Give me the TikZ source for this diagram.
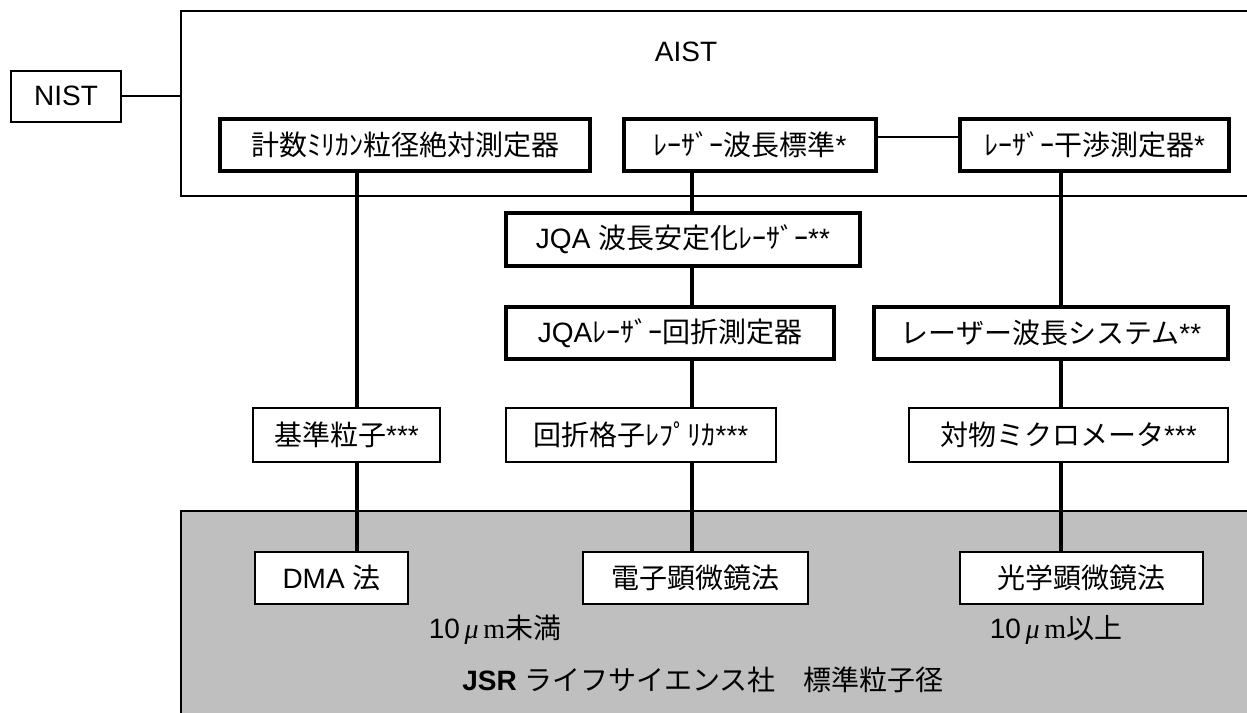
\documentclass[tikz,border=0pt]{standalone}
\usepackage{fontspec}
\newfontfamily\ar{Liberation Sans}
\newfontfamily\jp{Noto Sans CJK JP}
\newfontfamily\ls{Liberation Serif}
\tikzset{
  base/.style={draw, inner sep=0pt, font=\ar\fontsize{28}{32}\selectfont},
  thinbox/.style={base, line width=2pt, fill=white},
  thickbox/.style={base, line width=3.5pt, fill=white, minimum height=52pt},
  midbox/.style={base, line width=2.8pt, fill=white, minimum height=54pt},
  lowbox/.style={base, line width=2.5pt, fill=white, minimum height=52pt},
  conn/.style={line width=4pt},
  thinline/.style={line width=1.6pt},
  lbl/.style={font=\ar\fontsize{28}{32}\selectfont, inner sep=0pt},
}
\begin{document}
\begin{tikzpicture}[x=1pt,y=-1pt]
\useasboundingbox (0,0) rectangle (1247,712);
% frames
\node[draw, line width=2pt, minimum width=1090pt, minimum height=185pt, anchor=north west, inner sep=0pt] (aist) at (180,10) {};
\node[draw, line width=2pt, fill=gray!50, minimum width=1090pt, minimum height=220pt, anchor=north west, inner sep=0pt] (jsrbox) at (180,510) {};
\node[lbl] (aistlbl) at (686,52) {AIST};
% coordinates
\coordinate (xA) at (357,0);
\coordinate (xB) at (692,0);
\coordinate (xC) at (1061,0);
\coordinate (yT) at (0,137);
% nodes
\node[thinbox, minimum width=110pt, minimum height=51pt] (nist) at (66,96) {NIST};
\node[thickbox, minimum width=370pt] (mil) at (405,145) {{\jp 計数ﾐﾘｶﾝ粒径絶対測定器}};
\node[thickbox, minimum width=252pt] (lws) at (750,145) {{\jp ﾚｰｻﾞｰ波長標準}*};
\node[thickbox, minimum width=269pt] (lif) at (1094.5,145) {{\jp ﾚｰｻﾞｰ干渉測定器}*};
\node[thickbox, minimum width=354pt, minimum height=53pt] (jqa1) at (683,239.5) {JQA {\jp 波長安定化ﾚｰｻﾞｰ}**};
\node[thickbox, minimum width=328pt] (jqa2) at (670,333) {JQA{\jp ﾚｰｻﾞｰ回折測定器}};
\node[thickbox, minimum width=354pt] (lsys) at (1051,333) {{\jp レーザー波長システム}**};
\node[midbox, minimum width=187pt] (kijun) at (346.5,435) {{\jp 基準粒子}***};
\node[midbox, minimum width=270pt] (kais) at (641,435) {{\jp 回折格子ﾚﾌﾟﾘｶ}***};
\node[midbox, minimum width=319pt] (taib) at (1068.5,435) {{\jp 対物ミクロメータ}***};
\node[lowbox, minimum width=153pt] (dma) at (331.5,578) {DMA {\jp 法}};
\node[lowbox, minimum width=225pt] (denshi) at (695.5,578) {{\jp 電子顕微鏡法}};
\node[lowbox, minimum width=243pt] (kogaku) at (1081.5,578) {{\jp 光学顕微鏡法}};
% connectors
\draw[thinline] (nist.east) -- (nist.east -| aist.west);
\draw[thinline] (lws.east |- yT) -- (lif.west |- yT);
\draw[conn] (mil.south -| xA) -- (kijun.north -| xA);
\draw[conn] (kijun.south -| xA) -- (dma.north -| xA);
\draw[conn] (lws.south -| xB) -- (jqa1.north -| xB);
\draw[conn] (jqa1.south -| xB) -- (jqa2.north -| xB);
\draw[conn] (jqa2.south -| xB) -- (kais.north -| xB);
\draw[conn] (kais.south -| xB) -- (denshi.north -| xB);
\draw[conn] (lif.south -| xC) -- (lsys.north -| xC);
\draw[conn] (lsys.south -| xC) -- (taib.north -| xC);
\draw[conn] (taib.south -| xC) -- (kogaku.north -| xC);
% labels in gray area
\node[lbl] (lt) at (495,630) {10\,{\ls\itshape μ}\,{\ls m}{\jp 未満}};
\node[lbl] (gt) at (1056,630) {10\,{\ls\itshape μ}\,{\ls m}{\jp 以上}};
\node[lbl] (jsr) at (703,680) {{\bfseries JSR} {\jp ライフサイエンス社　標準粒子径}};
\end{tikzpicture}
\end{document}
